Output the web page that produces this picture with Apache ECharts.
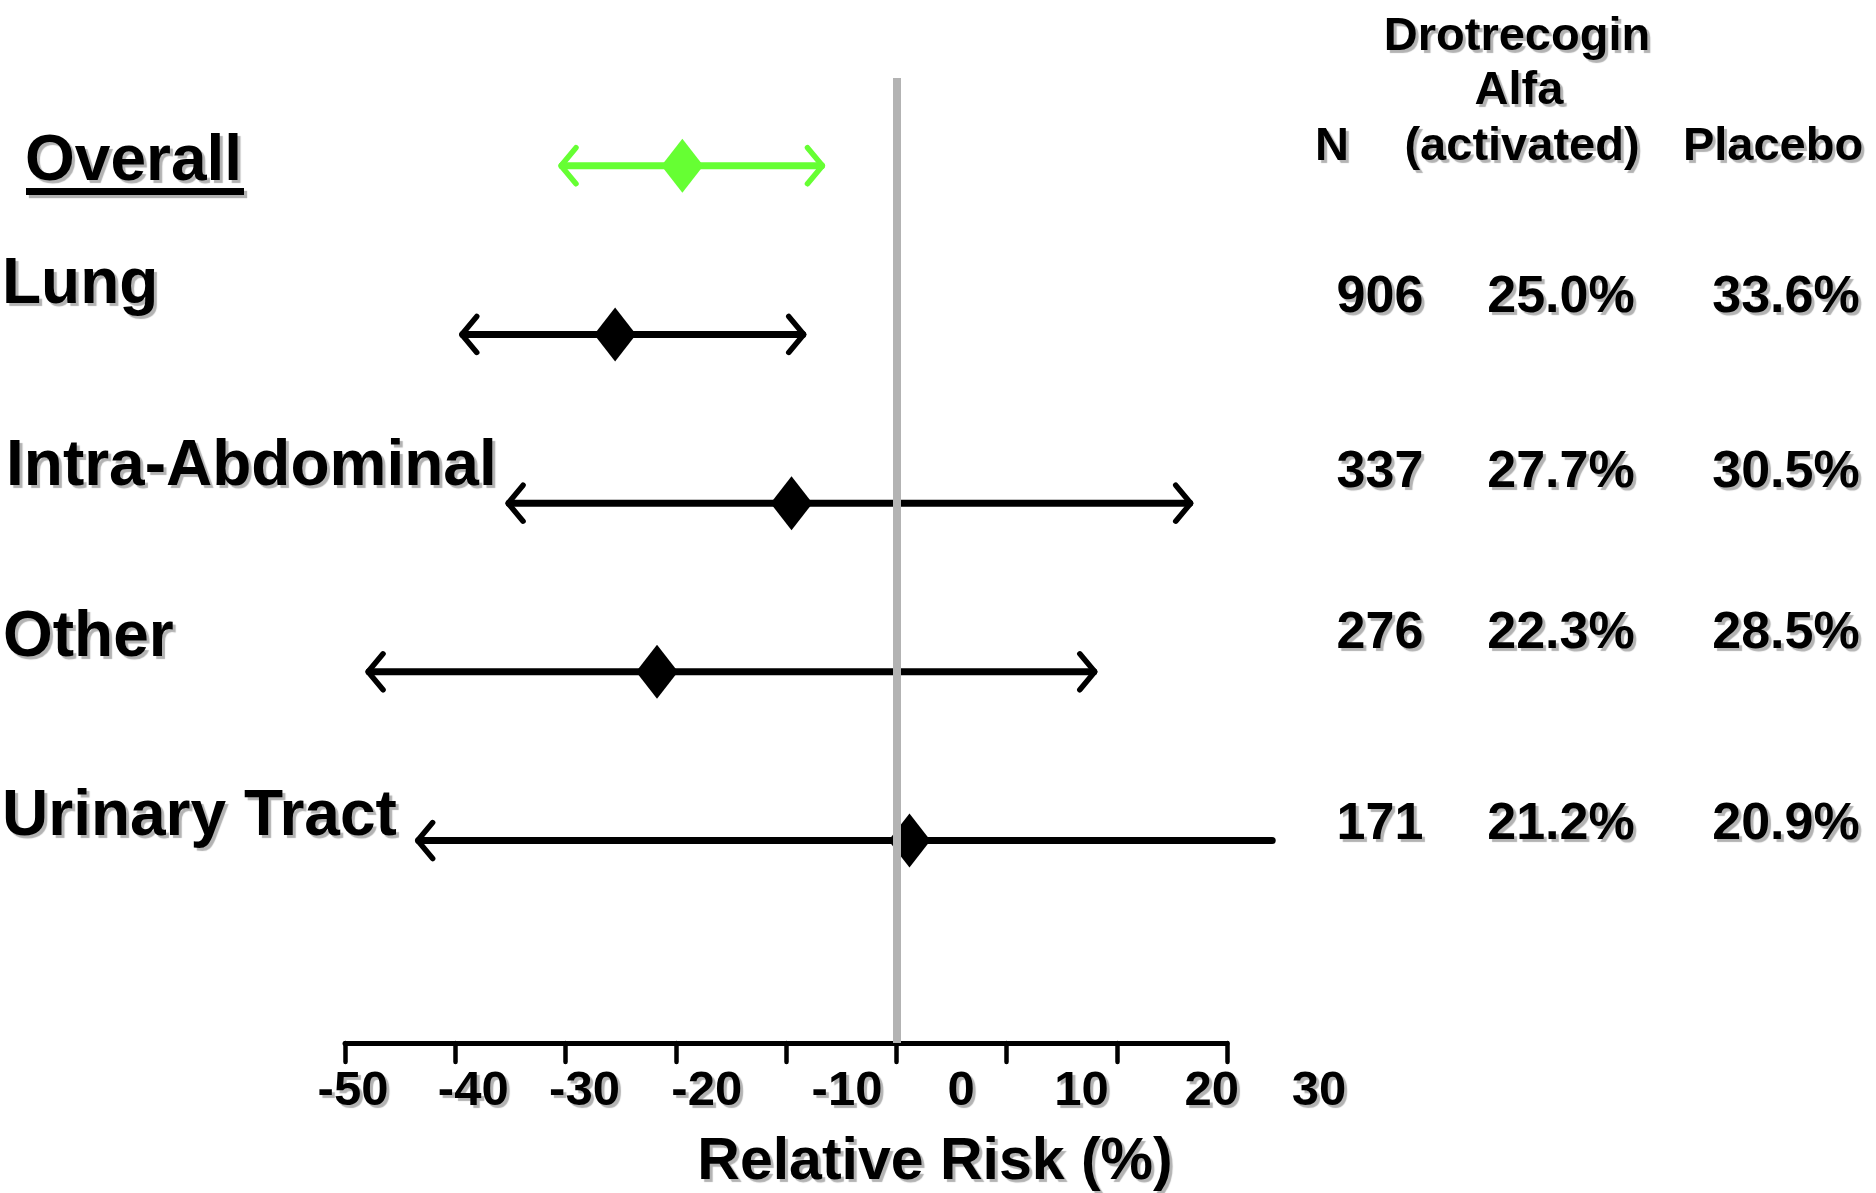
<!DOCTYPE html>
<html>
<head>
<meta charset="utf-8">
<script src="https://cdn.jsdelivr.net/npm/echarts@6/dist/echarts.min.js"></script>
<style>
  html, body { margin: 0; padding: 0; background: #ffffff; }
  #chart { width: 1876px; height: 1193px; }
</style>
</head>
<body>
<div id="chart"></div>
<script>
// Mortality by site of infection: relative risk (%) with 95% CI
const rowNames = ['Overall', 'Lung', 'Intra-Abdominal', 'Other', 'Urinary Tract'];
const riskEstimate = [-19.4, -25.5, -9.5, -21.7, 1.2];
const ciLower = [-30.5, -39.5, -35.3, -48.0, -43.5];
const ciUpper = [-6.6, -8.3, 26.8, 18.1, 34.1];
const upperArrow = [true, true, true, true, false];

// Table on the right (site rows only)
const tableHeader = ['N', 'Drotrecogin\nAlfa\n(activated)', 'Placebo'];
const sitePatients = ['906', '337', '276', '171'];
const drotrecoginMortality = ['25.0%', '27.7%', '22.3%', '21.2%'];
const placeboMortality = ['33.6%', '30.5%', '28.5%', '20.9%'];

// X axis ticks and their labels
const tickValues = [-50, -40, -30, -20, -10, 0, 10, 20, 30];
const tickLabels = ['-50', '-40', '-30', '-20', '-10', '0', '10', '20', '30'];

// ---- styling ----
const FONT = '"Liberation Sans", Arial, sans-serif';
const rowColor = ['#66ff33', '#000000', '#000000', '#000000', '#000000'];
const SHADOW = { textShadowColor: '#b3b3b3', textShadowBlur: 1, textShadowOffsetX: 3, textShadowOffsetY: 3 };
// tick labels sit in a text strip that drifts right of the ticks
const labelShift = [8, 18, 19, 31, 61, 65, 75, 95, 92];

function textEl(text, x, y, size, align) {
  return {
    type: 'text', x: x, y: y, silent: true, z: 10,
    style: Object.assign({
      text: text, font: 'bold ' + size + 'px ' + FONT, fill: '#000',
      textAlign: align || 'center', textVerticalAlign: 'middle'
    }, SHADOW)
  };
}

const rowLabelPos = [[25, 162.5], [2, 285], [6, 467], [3, 638], [2, 817]];
const tableRowY = [298, 473, 634, 825];
const tableColX = [1380, 1561, 1786];

const graphics = [];
rowNames.forEach((name, i) => {
  graphics.push(textEl(name, rowLabelPos[i][0], rowLabelPos[i][1], 64, 'left'));
});
// underline under "Overall"
graphics.push({
  type: 'rect', silent: true, z: 10,
  shape: { x: 26, y: 188, width: 218, height: 7 },
  style: { fill: '#000', shadowColor: '#b3b3b3', shadowBlur: 1, shadowOffsetX: 3, shadowOffsetY: 3 }
});
// header
const headerLines = tableHeader[1].split('\n');
graphics.push(textEl(headerLines[0], 1517, 37, 47));
graphics.push(textEl(headerLines[1], 1519, 91, 47));
graphics.push(textEl(tableHeader[0], 1332, 147, 47));
graphics.push(textEl(headerLines[2], 1522, 147, 47));
graphics.push(textEl(tableHeader[2], 1773, 147, 47));
// body
[sitePatients, drotrecoginMortality, placeboMortality].forEach((col, c) => {
  col.forEach((txt, r) => {
    graphics.push(textEl(txt, tableColX[c], tableRowY[r], 52));
  });
});

const chart = echarts.init(document.getElementById('chart'), null, { renderer: 'canvas' });

chart.setOption({
  animation: false,
  backgroundColor: '#ffffff',
  grid: { left: 345, right: 649, top: 78, bottom: 150, containLabel: false, outerBoundsMode: 'none' },
  xAxis: {
    type: 'value', min: -50, max: 30, interval: 10,
    name: 'Relative Risk (%)', nameLocation: 'middle', nameGap: 90,
    nameTextStyle: Object.assign({
      fontFamily: FONT, fontWeight: 'bold', fontSize: 59, lineHeight: 59,
      color: '#000', padding: [0, 0, 0, 298]
    }, SHADOW),
    axisLine: { show: true, onZero: false, lineStyle: { color: '#000', width: 5, cap: 'round' } },
    axisTick: { show: true, inside: false, length: 19, lineStyle: { color: '#000', width: 4.5, cap: 'round' } },
    splitLine: { show: false },
    axisLabel: { show: false }
  },
  yAxis: { type: 'value', min: -0.52, max: 5.2, inverse: true, show: false },
  graphic: graphics,
  series: [
    {
      // reference line at no effect
      type: 'scatter', z: 1, data: [], symbolSize: 0,
      markLine: {
        silent: true, symbol: 'none', label: { show: false },
        lineStyle: { color: '#b3b3b3', width: 8, type: 'solid', opacity: 1 },
        data: [{ xAxis: 0 }]
      }
    },
    {
      // confidence intervals with arrowheads
      type: 'custom', z: 2, clip: false,
      encode: { x: [0, 1], y: 2 },
      data: rowNames.map((_, i) => [ciLower[i], ciUpper[i], i]),
      renderItem: function (params, api) {
        const i = api.value(2);
        const p0 = api.coord([api.value(0), i]);
        const p1 = api.coord([api.value(1), i]);
        const color = rowColor[i];
        const head = (tip, dir) => ({
          type: 'polyline',
          shape: { points: [[tip[0] + dir * 16, tip[1] - 18], [tip[0] + dir * 1, tip[1]], [tip[0] + dir * 16, tip[1] + 18]] },
          style: { stroke: color, fill: null, lineWidth: 5.5, lineCap: 'round', lineJoin: 'round' }
        });
        const children = [{
          type: 'line',
          shape: { x1: p0[0] + 2, y1: p0[1], x2: p1[0] - (upperArrow[i] ? 2 : 0), y2: p1[1] },
          style: { stroke: color, lineWidth: 7, lineCap: 'round' }
        }, head(p0, 1)];
        if (upperArrow[i]) children.push(head(p1, -1));
        return { type: 'group', children: children };
      }
    },
    {
      // point estimates
      type: 'scatter', z: 3, symbol: 'diamond', symbolSize: [42, 54],
      itemStyle: { opacity: 1 },
      data: riskEstimate.map((v, i) => ({ value: [v, i], itemStyle: { color: rowColor[i], opacity: 1 } }))
    }
  ]
});

// tick labels placed through the x axis scale
const tickLabelEls = tickValues.map((v, k) => {
  const px = chart.convertToPixel({ xAxisIndex: 0 }, v);
  return textEl(tickLabels[k], px + labelShift[k], 1091, 49);
});
chart.setOption({ graphic: graphics.concat(tickLabelEls) });
</script>
</body>
</html>
